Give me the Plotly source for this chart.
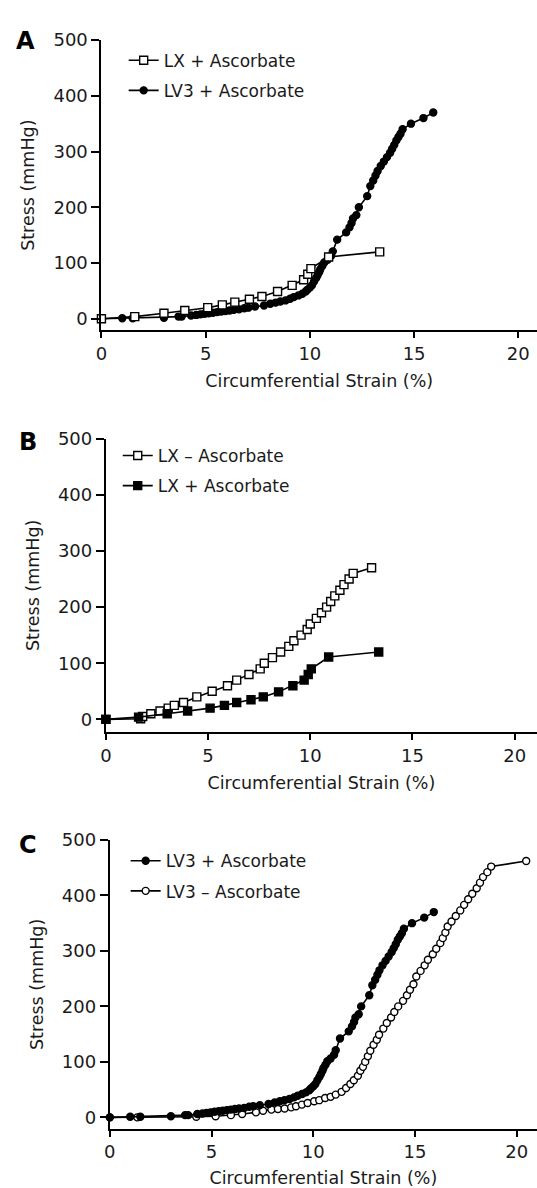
import plotly.graph_objects as go

# ---------------- data ----------------
strain_ticks = [0, 5, 10, 15, 20]
stress_ticks = [0, 100, 200, 300, 400, 500]

# LX + Ascorbate
lx_plus_x = [0, 1.6, 3.0, 4.0, 5.1, 5.8, 6.4, 7.1, 7.7, 8.45, 9.15, 9.7, 9.9, 10.05, 10.9, 13.35]
lx_plus_y = [0, 4, 10, 15, 20, 25, 30, 35, 40, 49, 60, 70, 80, 90, 111, 120]

# LX - Ascorbate
lx_minus_x = [0, 1.7, 1.8, 2.2, 2.65, 3.05, 3.35, 3.8, 4.45, 5.2, 5.95, 6.4, 7.0, 7.55, 7.75,
              8.15, 8.55, 8.95, 9.2, 9.55, 9.85, 10.0, 10.3, 10.55, 10.8, 11.0, 11.2, 11.45,
              11.65, 11.9, 12.1, 13.0]
lx_minus_y = [0, 1, 5, 10, 15, 20, 25, 30, 40, 50, 60, 70, 80, 90, 100,
              110, 120, 130, 140, 150, 160, 170, 180, 190, 200, 210, 220, 230,
              240, 250, 260, 270]

# LV3 + Ascorbate
lv3_plus_x = [0, 1.0, 1.5, 3.0, 3.7, 3.85, 4.3, 4.55, 4.75, 4.95, 5.15, 5.35, 5.55, 5.75, 5.95,
              6.15, 6.35, 6.6, 6.85, 7.05, 7.37, 7.8, 8.1, 8.35, 8.58, 8.83, 9.05, 9.23, 9.45,
              9.64, 9.8, 9.88, 10.0, 10.1, 10.2, 10.3, 10.37, 10.45, 10.5, 10.6, 10.69, 10.85,
              11.02, 11.1, 11.31, 11.74, 11.9, 12.0, 12.07, 12.23, 12.35, 12.75, 12.9, 13.04,
              13.15, 13.25, 13.4, 13.55, 13.7, 13.85, 13.95, 14.05, 14.15, 14.25, 14.35, 14.45,
              14.85, 15.45, 15.92]
lv3_plus_y = [0, 1, 1, 2, 4, 4, 6, 7, 8, 9, 10, 11, 12, 13, 14,
              15, 16, 17, 19, 20, 22, 24, 27, 29, 31, 33, 36, 39, 42,
              45, 49, 52, 56, 60, 67, 73, 78, 84, 89, 95, 101, 106,
              113, 121, 142, 155, 164, 172, 180, 186, 200, 220, 238, 248,
              257, 265, 274, 282, 290, 298, 305, 312, 320, 326, 332, 340,
              350, 360, 370]

# LV3 - Ascorbate
lv3_minus_x = [0, 1.35, 4.25, 5.2, 5.95, 6.5, 7.18, 7.53, 7.94, 8.26, 8.59, 8.91, 9.15, 9.44,
               9.72, 10.04, 10.29, 10.58, 10.85, 11.1, 11.39, 11.61, 11.82, 11.99, 12.19, 12.31,
               12.44, 12.55, 12.68, 12.8, 12.96, 13.12, 13.23, 13.44, 13.61, 13.82, 13.98, 14.17,
               14.41, 14.6, 14.75, 14.92, 15.06, 15.27, 15.47, 15.63, 15.87, 16.04, 16.24, 16.36,
               16.49, 16.6, 16.79, 17.0, 17.22, 17.41, 17.61, 17.81, 18.03, 18.19, 18.34, 18.55,
               18.74, 20.46]
lv3_minus_y = [0, 0, 1, 2, 4, 6, 9, 12, 14, 15, 16, 18, 20, 23,
               26, 29, 31, 35, 37, 41, 46, 53, 60, 67, 75, 84,
               91, 100, 110, 120, 131, 140, 149, 160, 170, 180, 190, 200,
               210, 220, 230, 240, 254, 264, 274, 284, 294, 304, 314, 323,
               333, 344, 353, 363, 373, 383, 393, 403, 413, 423, 433, 442,
               452, 462]

W, H = 537, 1188
FONT = "DejaVu Sans"
INK = "#1a1a1a"

def py(p):  # pixel row -> paper fraction
    return 1 - p / H

def px(p):
    return p / W

fig = go.Figure()

def add(x, y, name, symbol, filled, xa, ya, legend, rank, size):
    fig.add_trace(go.Scatter(
        x=x, y=y, name=name, mode="lines+markers",
        xaxis=xa, yaxis=ya, legend=legend, legendrank=rank,
        legendgroup=name + xa,
        line=dict(color="black", width=1.6),
        marker=dict(symbol=symbol, size=size,
                    color="black" if filled else "white",
                    line=dict(color="black", width=1.4)),
        cliponaxis=False,
    ))

# Panel A
add(lv3_plus_x, lv3_plus_y, "LV3 + Ascorbate", "circle", True, "x", "y", "legend", 2, 7)
add(lx_plus_x, lx_plus_y, "LX + Ascorbate", "square", False, "x", "y", "legend", 1, 8)
# Panel B
add(lx_minus_x, lx_minus_y, "LX \u2013 Ascorbate", "square", False, "x2", "y2", "legend2", 1, 8)
add(lx_plus_x, lx_plus_y, "LX + Ascorbate", "square", True, "x2", "y2", "legend2", 2, 8)
# Panel C
add(lv3_minus_x, lv3_minus_y, "LV3 \u2013 Ascorbate", "circle", False, "x3", "y3", "legend3", 2, 7)
add(lv3_plus_x, lv3_plus_y, "LV3 + Ascorbate", "circle", True, "x3", "y3", "legend3", 1, 7)

panels = [
    dict(x0=96.5, ppu=21.08, top=29.3, bot=322.3, zero=310.7),
    dict(x0=101.0, ppu=20.67, top=431.7, bot=727.7, zero=715.0),
    dict(x0=105.0, ppu=20.58, top=836.7, bot=1128.3, zero=1116.7),
]

axis_common = dict(
    showline=True, linecolor="black", linewidth=2,
    ticks="outside", tickcolor="black", tickwidth=2,
    showgrid=False, zeroline=False,
    tickfont=dict(family=FONT, size=18, color=INK),
)

for i, p in enumerate(panels):
    sfx = "" if i == 0 else str(i + 1)
    xr = (W - p["x0"]) / p["ppu"]
    yppu = (p["zero"] - p["top"]) / 500.0
    ybot = -(p["bot"] - p["zero"]) / yppu
    fig.layout["xaxis" + sfx] = dict(
        axis_common, domain=[px(p["x0"]), 1.0], range=[0, xr],
        tickvals=strain_ticks, ticklen=6,
        anchor="y" + sfx,
        title=dict(text="Circumferential Strain (%)", standoff=12,
                   font=dict(family=FONT, size=17.5, color=INK)),
    )
    fig.layout["yaxis" + sfx] = dict(
        axis_common, domain=[py(p["bot"]), py(p["top"])], range=[ybot, 500],
        tickvals=stress_ticks, ticklen=8,
        anchor="x" + sfx,
        title=dict(text="Stress (mmHg)", standoff=14,
                   font=dict(family=FONT, size=17.5, color=INK)),
    )

legend_common = dict(
    font=dict(family=FONT, size=17, color=INK),
    bgcolor="rgba(0,0,0,0)", xanchor="left", yanchor="top",
    traceorder="grouped", tracegroupgap=5,
)
fig.update_layout(
    legend=dict(legend_common, x=px(119), y=py(32)),
    legend2=dict(legend_common, x=px(113), y=py(431)),
    legend3=dict(legend_common, x=px(121), y=py(840)),
)

for letter, (cx, cy) in zip(["A", "B", "C"], [(20, 30), (22.5, 435), (22.5, 842)]):
    fig.add_annotation(text="<b>%s</b>" % letter, x=px(cx), y=py(cy), xref="paper", yref="paper",
                       showarrow=False, xanchor="center", yanchor="middle",
                       font=dict(family=FONT, size=24, color="black"))

fig.update_layout(
    width=W, height=H, margin=dict(l=0, r=0, t=0, b=0),
    paper_bgcolor="white", plot_bgcolor="white", showlegend=True,
)

fig.write_html("out.html", config={"displayModeBar": False})

# remove the browser's default page margin so the figure sits at the window origin
with open("out.html", "r", encoding="utf-8") as f:
    html = f.read()
html = html.replace("<head>", "<head><style>html,body{margin:0;padding:0;overflow:hidden;}</style>", 1)
with open("out.html", "w", encoding="utf-8") as f:
    f.write(html)
